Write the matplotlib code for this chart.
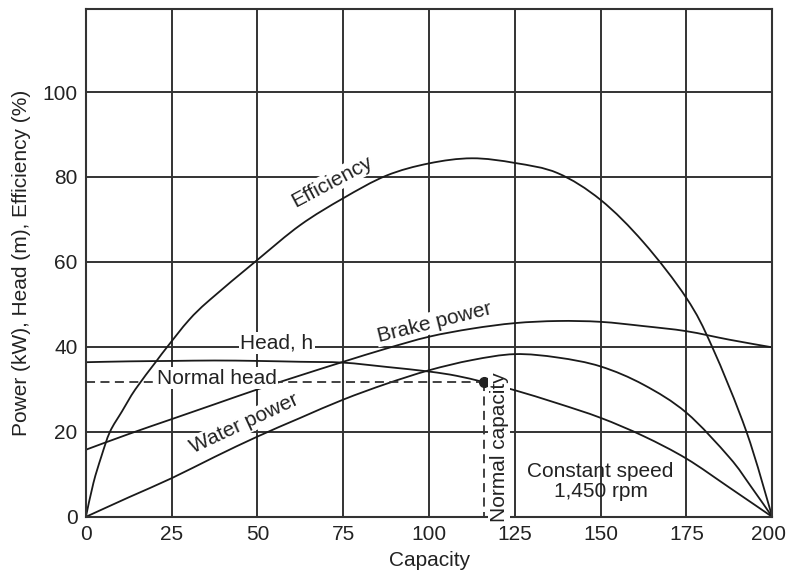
import matplotlib
matplotlib.use("Agg")
import matplotlib.pyplot as plt
from matplotlib.path import Path
from matplotlib.patches import PathPatch
from matplotlib.transforms import ScaledTranslation

plt.rcParams['font.family'] = ['Liberation Sans', 'DejaVu Sans']

# ---- data ----
eff_x = [0, 2.2, 4.5, 7, 10.5, 14.4, 20.4, 23.7, 30, 36, 50, 62.5, 75, 87.5, 100,
         112.5, 125, 137.5, 150, 162.5, 175, 182.5, 192.5, 200]
eff_y = [0, 8, 14.2, 20, 24.8, 30, 36.5, 40, 46.3, 51, 60.5, 68.7, 75, 80.3, 83.2,
         84.4, 83.3, 80.9, 74.6, 64.6, 51.5, 40, 20, 0]

head_x = [0, 12.5, 25, 37.5, 50, 62.5, 75, 87.5, 100, 108, 116, 125, 137.5, 150,
          162.5, 175, 187.5, 200]
head_y = [36.4, 36.6, 36.7, 36.8, 36.7, 36.5, 36.3, 35.3, 34.2, 33.2, 31.7, 29.8,
          26.7, 23.3, 19.0, 13.7, 6.9, 0]

brake_x = [0, 12.5, 25, 37.5, 50, 62.5, 75, 87.5, 100, 112.5, 125, 137.5, 150,
           162.5, 175, 187.5, 200]
brake_y = [15.8, 19.5, 23.0, 26.5, 30.0, 33.3, 36.5, 39.6, 42.4, 44.3, 45.6, 46.1,
           45.9, 44.9, 43.7, 41.7, 39.9]

water_x = [0, 12.5, 25, 37.5, 50, 62.5, 75, 87.5, 100, 112.5, 125, 137.5, 150,
           162.5, 175, 187.5, 193.75, 200]
water_y = [0, 4.6, 9.1, 14.1, 18.9, 23.3, 27.6, 31.3, 34.5, 36.9, 38.3, 37.5, 35.4,
           31.1, 24.5, 14.0, 7.2, 0]

normal_q = 116
normal_h = 31.7

x_ticks = [0, 25, 50, 75, 100, 125, 150, 175, 200]
y_ticks = [0, 20, 40, 60, 80, 100]


def smooth_path(xs, ys):
    """Catmull-Rom spline through the given points, as cubic Bezier path."""
    pts = list(zip(xs, ys))
    n = len(pts)
    verts = [pts[0]]
    codes = [Path.MOVETO]
    for i in range(n - 1):
        p0 = pts[i - 1] if i > 0 else pts[i]
        p1 = pts[i]
        p2 = pts[i + 1]
        p3 = pts[i + 2] if i + 2 < n else pts[i + 1]
        c1 = (p1[0] + (p2[0] - p0[0]) / 6.0, p1[1] + (p2[1] - p0[1]) / 6.0)
        c2 = (p2[0] - (p3[0] - p1[0]) / 6.0, p2[1] - (p3[1] - p1[1]) / 6.0)
        verts += [c1, c2, p2]
        codes += [Path.CURVE4, Path.CURVE4, Path.CURVE4]
    return Path(verts, codes)


# ---- figure ----
fig = plt.figure(figsize=(7.88, 5.73), dpi=100)
ax = fig.add_axes([0.109, 0.098, 0.871, 0.886])

ax.set_xlim(0, 200)
ax.set_ylim(0, 119.5)
ax.set_xticks(x_ticks)
ax.set_yticks(y_ticks)
ax.tick_params(length=0, labelsize=15, colors='#222222', pad=6)
for s in ax.spines.values():
    s.set_color('#333333')
    s.set_linewidth(1.5)

for gx in x_ticks[1:-1]:
    ax.axvline(gx, color='#333333', lw=1.4, zorder=1)
for gy in y_ticks[1:]:
    ax.axhline(gy, color='#333333', lw=1.4, zorder=1)

lc = '#1a1a1a'
for xs, ys in [(eff_x, eff_y), (head_x, head_y), (brake_x, brake_y),
               (water_x, water_y)]:
    ax.add_patch(PathPatch(smooth_path(xs, ys), facecolor='none',
                           edgecolor=lc, lw=1.3, zorder=2,
                           transform=ax.transData, clip_on=False))

ax.plot([0, normal_q], [normal_h, normal_h], color='#333333', lw=1.3,
        ls=(0, (5, 3)), zorder=2)
ax.plot([normal_q, normal_q], [normal_h, 0], color='#333333', lw=1.3,
        ls=(0, (5, 3)), zorder=2)
ax.plot([normal_q], [normal_h], 'o', color='#222222', ms=7, zorder=4)

bb = dict(facecolor='white', edgecolor='none', pad=1.0)
tc = '#222222'
fs = 15
ax.text(71.7, 78.8, 'Efficiency', rotation=28, fontsize=fs, color=tc,
        ha='center', va='center', bbox=bb, zorder=5)
ax.text(101.5, 45.8, 'Brake power', rotation=14, fontsize=fs, color=tc,
        ha='center', va='center', bbox=bb, zorder=5)
ax.text(55.7, 41.0, 'Head, h', fontsize=fs, color=tc,
        ha='center', va='center', bbox=bb, zorder=5)
ax.text(38.2, 32.6, 'Normal head', fontsize=fs, color=tc,
        ha='center', va='center', bbox=bb, zorder=5)
ax.text(46.1, 21.9, 'Water power', rotation=25, fontsize=fs, color=tc,
        ha='center', va='center', bbox=bb, zorder=5)
ax.text(120.4, 16.4, 'Normal capacity', rotation=90, fontsize=fs, color=tc,
        ha='center', va='center', bbox=bb, zorder=5)
ax.text(150, 8.3, 'Constant speed\n1,450 rpm', fontsize=fs, color=tc,
        ha='center', va='center', linespacing=1.1, zorder=5)

ax.set_xlabel('Capacity', fontsize=fs, color=tc, labelpad=5)
ax.set_ylabel('Power (kW), Head (m), Efficiency (%)', fontsize=fs, color=tc,
              labelpad=8)

# nudge the last x tick label a little so it stays inside the canvas
last = ax.xaxis.get_major_ticks()[-1].label1
last.set_transform(last.get_transform()
                   + ScaledTranslation(-3 / 72, 0, fig.dpi_scale_trans))

fig.savefig('out.png', dpi=100)
